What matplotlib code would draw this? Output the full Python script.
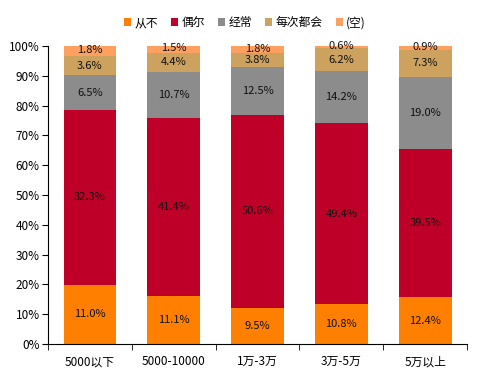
import matplotlib
matplotlib.use('Agg')
import matplotlib.pyplot as plt
import numpy as np

plt.rcParams['font.family'] = ['Noto Sans CJK SC', 'DejaVu Sans']

categories = ['5000以下', '5000-10000', '1万-3万', '3万-5万', '5万以上']
series_names = ['从不', '偶尔', '经常', '每次都会', '(空)']
never = [11.0, 11.1, 9.5, 10.8, 12.4]
sometimes = [32.3, 41.4, 50.6, 49.4, 39.5]
often = [6.5, 10.7, 12.5, 14.2, 19.0]
always = [3.6, 4.4, 3.8, 6.2, 7.3]
blank = [1.8, 1.5, 1.8, 0.6, 0.9]
colors = ['#FF7F00', '#BE0028', '#8C8C8C', '#CCA25E', '#FFA060']

# each bar is scaled to 100%, labels keep the raw values
raw = np.array([never, sometimes, often, always, blank])
share = raw / raw.sum(axis=0) * 100

fig = plt.figure(figsize=(4.8, 3.78), dpi=100)
ax = fig.add_axes([0.1, 0.09, 0.873, 0.788])

x = np.arange(len(categories))
bottom = np.zeros(len(categories))
for i, name in enumerate(series_names):
    ax.bar(x, share[i], 0.63, bottom=bottom, color=colors[i], label=name)
    for j in range(len(categories)):
        yc = bottom[j] + share[i][j] / 2
        if i == 4:
            yc += 0.3
        ax.text(x[j], yc, f'{raw[i][j]:.1f}%', ha='center', va='center',
                fontsize=8, color='#111111')
    bottom += share[i]

ax.set_xlim(-0.5, len(categories) - 0.5)
ax.set_ylim(0, 100)
ax.set_yticks(np.arange(0, 101, 10))
ax.set_yticklabels([f'{v}%' for v in range(0, 101, 10)], fontsize=8.5)
ax.set_xticks(x)
ax.set_xticklabels(categories, fontsize=8.5)
ax.tick_params(axis='x', length=0, pad=8)
ax.set_xticks(np.arange(-0.5, len(categories)), minor=True)
ax.tick_params(axis='x', which='minor', length=4, direction='out')
ax.tick_params(axis='y', length=4, direction='out', pad=2)
for s in ['top', 'right']:
    ax.spines[s].set_visible(False)

fig.legend(loc='upper center', bbox_to_anchor=(0.51, 0.985), ncol=5, frameon=False,
           fontsize=8.5, handlelength=0.6, handleheight=0.6, handletextpad=0.3,
           columnspacing=1.1)

fig.savefig('out.png', dpi=100)
